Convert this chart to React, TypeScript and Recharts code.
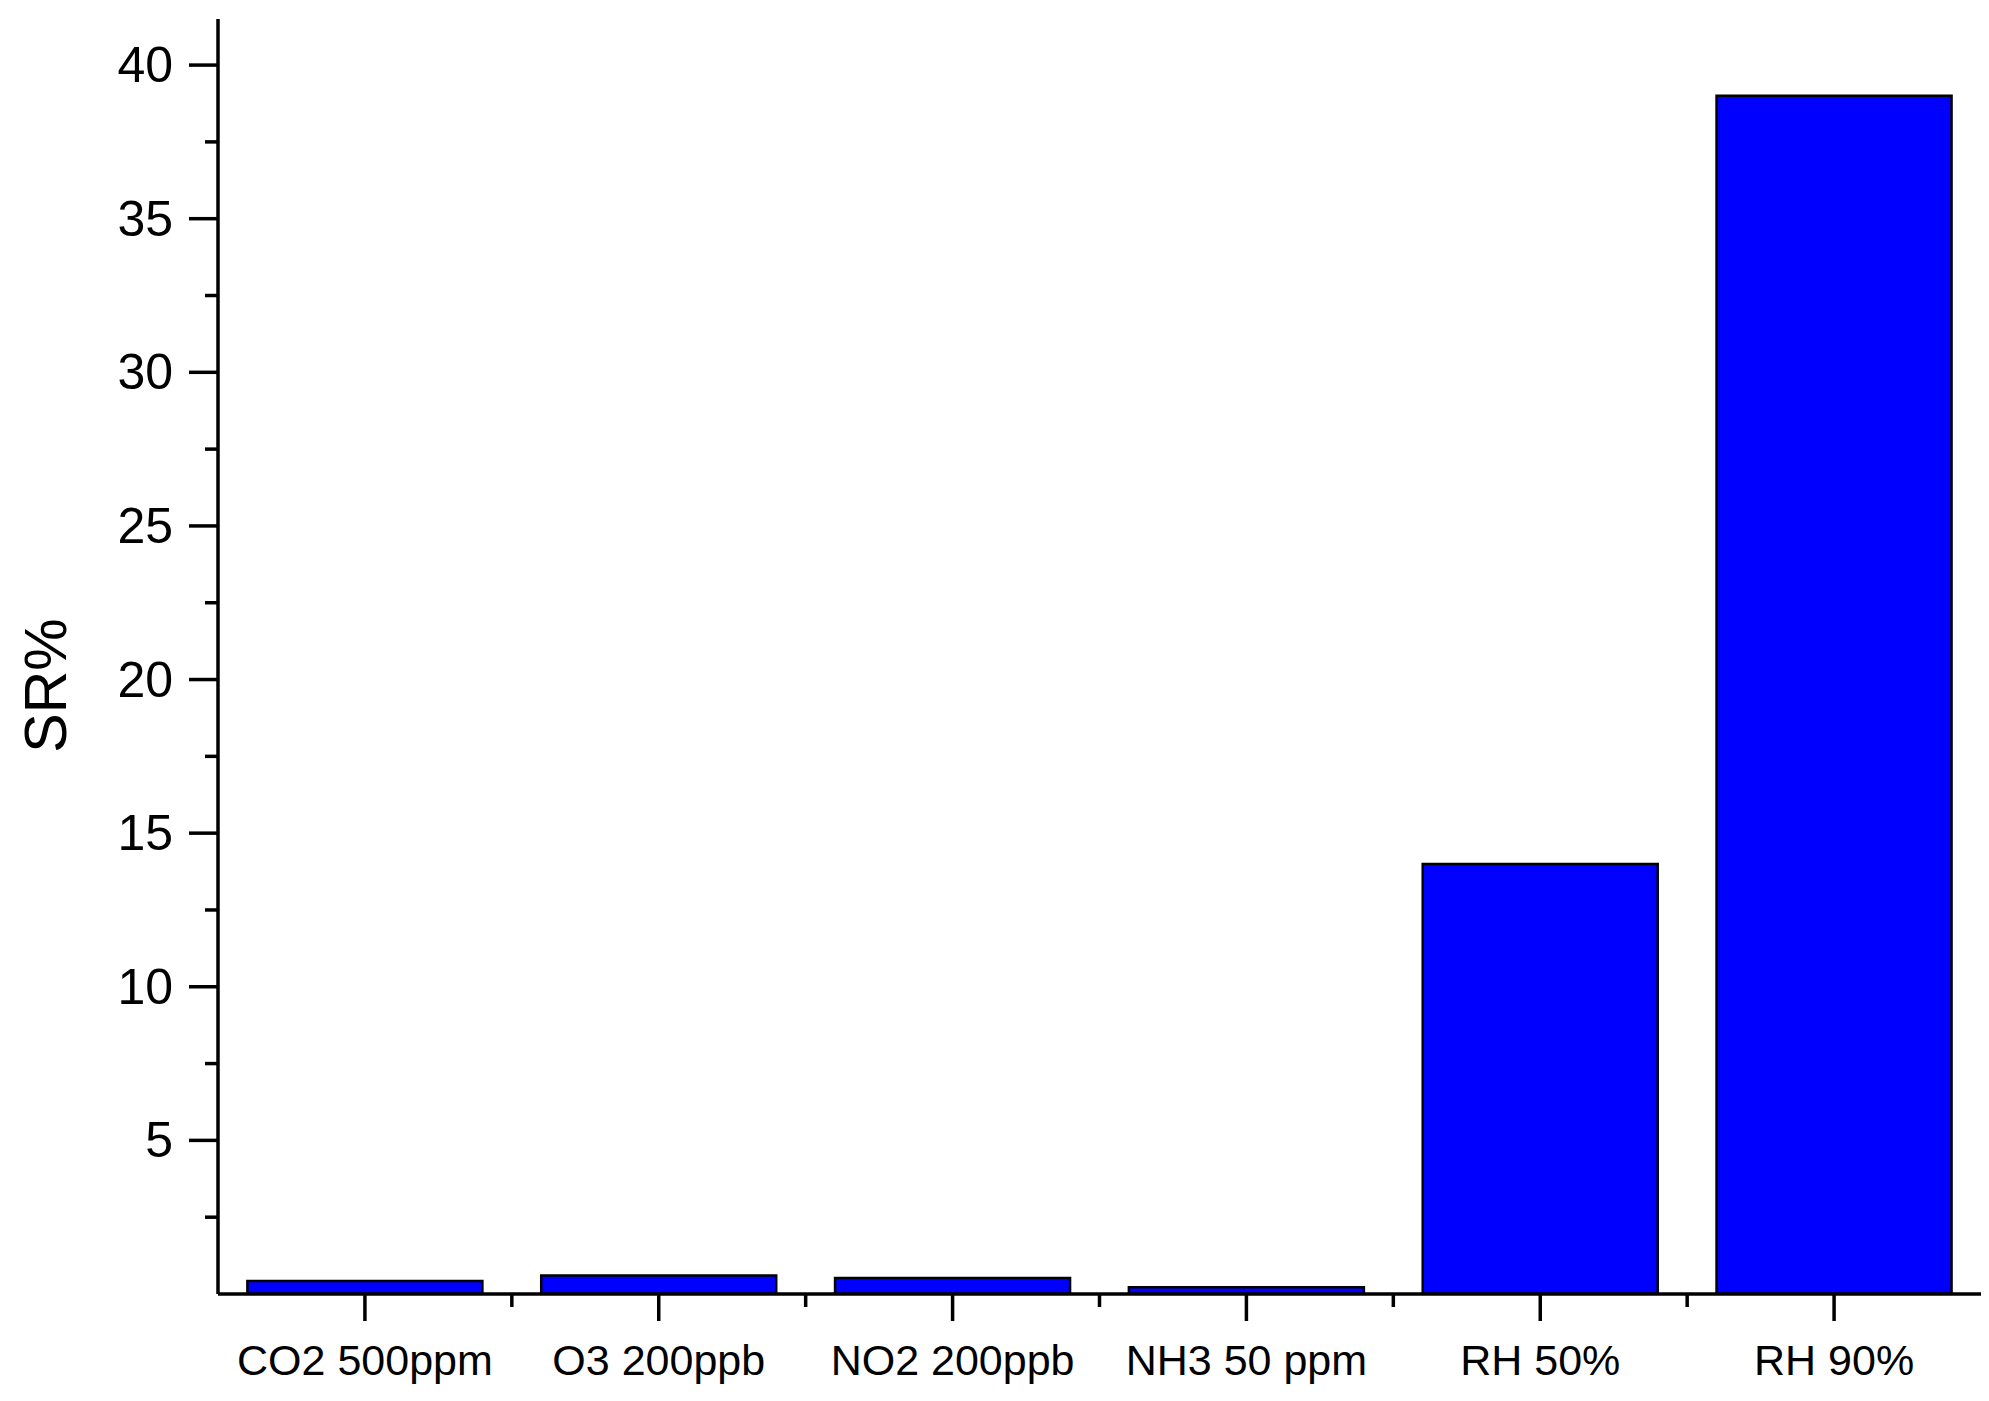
import { Bar, BarChart, XAxis, YAxis } from "recharts";

const categories = ["CO2 500ppm", "O3 200ppb", "NO2 200ppb", "NH3 50 ppm", "RH 50%", "RH 90%"];
const srValues = [0.42, 0.6, 0.52, 0.22, 14, 39];
const majorYTicks = [5, 10, 15, 20, 25, 30, 35, 40];
const minorYTicks = [2.5, 7.5, 12.5, 17.5, 22.5, 27.5, 32.5, 37.5];
const yMax = 41.5;

const data = categories.map((name, i) => ({ name, sr: srValues[i] }));
const allYTicks = [...minorYTicks, ...majorYTicks].sort((a, b) => a - b);

const W = 1989;
const H = 1401;
const LEFT = 218;
const RIGHT = 8;
const band = (W - LEFT - RIGHT) / categories.length;

const font = "'Liberation Sans', Arial, sans-serif";
const lineW = 3.5;

function YTick({ x, y, payload }: any) {
  const major = majorYTicks.includes(payload.value);
  return (
    <g>
      <line x1={x} x2={x - (major ? 29 : 13)} y1={y} y2={y} stroke="#000" strokeWidth={lineW} />
      {major && (
        <text x={x - 45} y={y} textAnchor="end" dominantBaseline="central" fontSize={50} fontFamily={font} fill="#000">
          {payload.value}
        </text>
      )}
    </g>
  );
}

function XTick({ x, y, payload, index }: any) {
  return (
    <g>
      <line x1={x} x2={x} y1={y} y2={y + 27} stroke="#000" strokeWidth={lineW} />
      {index < categories.length - 1 && (
        <line x1={x + band / 2} x2={x + band / 2} y1={y} y2={y + 13} stroke="#000" strokeWidth={lineW} />
      )}
      <text x={x} y={y + 50} dy="0.71em" textAnchor="middle" fontSize={43} fontFamily={font} fill="#000">
        {payload.value}
      </text>
    </g>
  );
}

export default function App() {
  return (
    <div style={{ position: "absolute", left: 0, top: 0, width: W, height: H, background: "#fff" }}>
      <BarChart
        width={W}
        height={H}
        data={data}
        margin={{ top: 19, right: RIGHT, bottom: 0, left: 0 }}
        barCategoryGap="10%"
      >
        <XAxis
          dataKey="name"
          height={107}
          interval={0}
          tickSize={0}
          tickMargin={0}
          tickLine={false}
          axisLine={{ stroke: "#000", strokeWidth: lineW }}
          tick={<XTick />}
        />
        <YAxis
          domain={[0, yMax]}
          ticks={allYTicks}
          interval={0}
          width={LEFT}
          tickSize={0}
          tickMargin={0}
          tickLine={false}
          axisLine={{ stroke: "#000", strokeWidth: lineW }}
          tick={<YTick />}
          allowDataOverflow
          label={{
            content: ({ viewBox }: any) => {
              const cx = viewBox.x + 46;
              const cy = viewBox.y + viewBox.height / 2 + 29;
              return (
                <text
                  x={cx}
                  y={cy}
                  transform={`rotate(-90 ${cx} ${cy})`}
                  textAnchor="middle"
                  dominantBaseline="central"
                  fontSize={59}
                  fontFamily={font}
                  fill="#000"
                >
                  SR%
                </text>
              );
            },
          }}
        />
        <Bar dataKey="sr" fill="#0000ff" stroke="#000" strokeWidth={2.5} isAnimationActive={false} />
      </BarChart>
    </div>
  );
}
